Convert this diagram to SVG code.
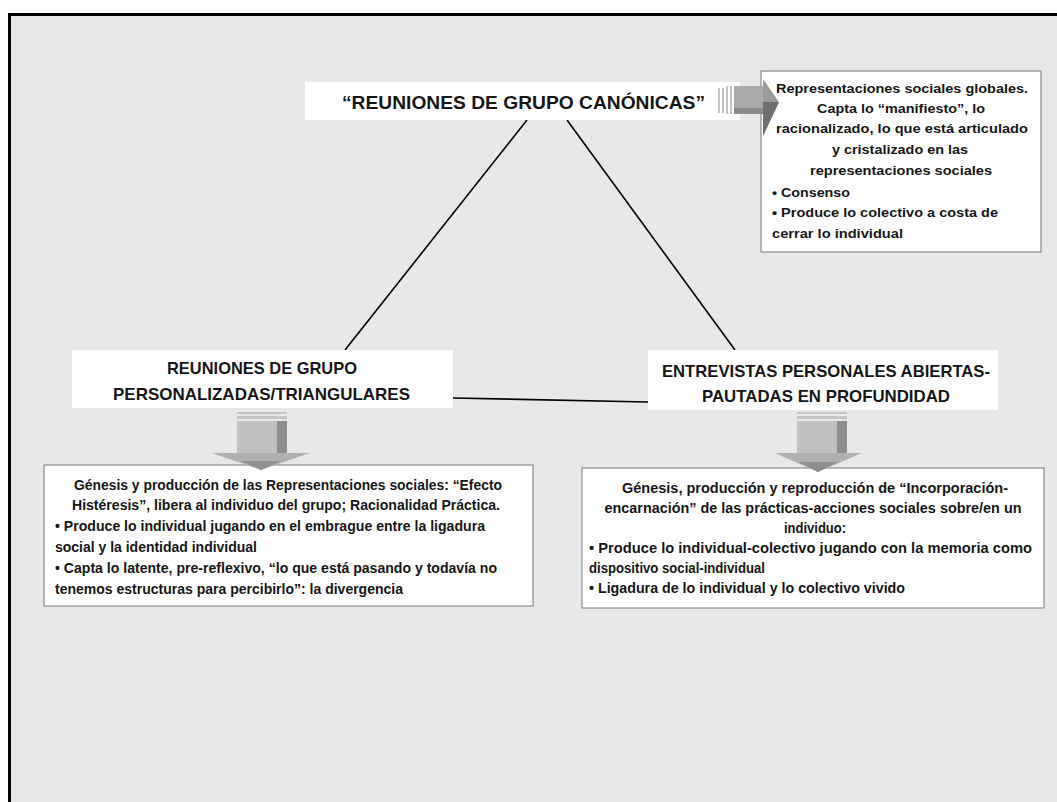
<svg xmlns="http://www.w3.org/2000/svg" width="1057" height="802" viewBox="0 0 1057 802">
<style>
.t{font-family:"Liberation Sans",Arial,sans-serif;font-weight:bold;fill:#161616;}
.s{font-size:14px;}
.r{font-size:13.5px;}
.h{font-size:17px;}
.m{text-anchor:middle;}
.box{fill:#ffffff;stroke:#8a8a8a;stroke-width:1.2;}
.node{fill:#ffffff;}
.ln{stroke:#000;stroke-width:1.6;fill:none;}
</style>
<rect x="0" y="0" width="1057" height="802" fill="#ffffff"/>
<rect x="10" y="15" width="1047" height="787" fill="#e8e8e8"/>
<path d="M9.5,802 V14.5 H1057" fill="none" stroke="#000" stroke-width="3"/>

<g id="connectors">
<line class="ln" x1="527" y1="120" x2="345" y2="350"/>
<line class="ln" x1="567" y1="120" x2="735" y2="350"/>
<line class="ln" x1="453" y1="398" x2="648" y2="402" stroke-width="2"/>
</g>

<g id="node-canonicas">
<rect class="node" x="305" y="82" width="435" height="38"/>
<text class="t m" x="523.5" y="109" font-size="18" textLength="363" lengthAdjust="spacingAndGlyphs">“REUNIONES DE GRUPO CANÓNICAS”</text>
</g>

<g id="node-canonicas-desc">
<rect class="box" x="761" y="71" width="280" height="181"/>
<text class="t r m" x="902" y="93" textLength="252" lengthAdjust="spacingAndGlyphs">Representaciones sociales globales.</text>
<text class="t r m" x="901" y="113" textLength="168" lengthAdjust="spacingAndGlyphs">Capta lo “manifiesto”, lo</text>
<text class="t r m" x="902" y="133" textLength="252" lengthAdjust="spacingAndGlyphs">racionalizado, lo que está articulado</text>
<text class="t r m" x="900" y="154" textLength="136" lengthAdjust="spacingAndGlyphs">y cristalizado en las</text>
<text class="t r m" x="901" y="175" textLength="182" lengthAdjust="spacingAndGlyphs">representaciones sociales</text>
<text class="t r" x="772" y="197" textLength="78" lengthAdjust="spacingAndGlyphs">• Consenso</text>
<text class="t r" x="772" y="217" textLength="226" lengthAdjust="spacingAndGlyphs">• Produce lo colectivo a costa de</text>
<text class="t r" x="772" y="238" textLength="131" lengthAdjust="spacingAndGlyphs">cerrar lo individual</text>
</g>

<g id="arrow-right">
<g stroke="#b0b0b0" stroke-width="1.5">
<line x1="719" y1="88" x2="719" y2="113"/>
<line x1="723" y1="88" x2="723" y2="113"/>
<line x1="727" y1="86" x2="727" y2="114"/>
<line x1="731" y1="86" x2="731" y2="114"/>
</g>
<rect x="734" y="86" width="31" height="28" fill="#ababab"/>
<rect x="734" y="108" width="31" height="6" fill="#8a8a8a"/>
<polygon points="763,79 779,102 763,136" fill="#9a9a9a"/>
<polygon points="763,102 779,102 763,136" fill="#6f6f6f"/>
</g>

<g id="node-personalizadas">
<rect class="node" x="72" y="350" width="381" height="58"/>
<text class="t h m" x="262" y="374" textLength="190" lengthAdjust="spacingAndGlyphs">REUNIONES DE GRUPO</text>
<text class="t h m" x="261.5" y="400" textLength="297" lengthAdjust="spacingAndGlyphs">PERSONALIZADAS/TRIANGULARES</text>
</g>

<g id="node-entrevistas">
<rect class="node" x="648" y="350" width="350" height="60"/>
<text class="t h m" x="826" y="377" textLength="328" lengthAdjust="spacingAndGlyphs">ENTREVISTAS PERSONALES ABIERTAS-</text>
<text class="t h m" x="826" y="402" textLength="248" lengthAdjust="spacingAndGlyphs">PAUTADAS EN PROFUNDIDAD</text>
</g>

<g id="node-personalizadas-desc">
<rect class="box" x="44" y="465" width="489" height="141"/>
<text class="t s m" x="288" y="490" textLength="428" lengthAdjust="spacingAndGlyphs">Génesis y producción de las Representaciones sociales: “Efecto</text>
<text class="t s m" x="286" y="510" textLength="428" lengthAdjust="spacingAndGlyphs">Histéresis”, libera al individuo del grupo;  Racionalidad Práctica.</text>
<text class="t s" x="55" y="531" textLength="430" lengthAdjust="spacingAndGlyphs">• Produce lo individual jugando en el embrague entre la ligadura</text>
<text class="t s" x="55" y="552" textLength="202" lengthAdjust="spacingAndGlyphs">social y la identidad individual</text>
<text class="t s" x="55" y="573" textLength="442" lengthAdjust="spacingAndGlyphs">• Capta lo latente, pre-reflexivo, “lo que está pasando y todavía no</text>
<text class="t s" x="55" y="594" textLength="348" lengthAdjust="spacingAndGlyphs">tenemos estructuras para percibirlo”: la divergencia</text>
</g>

<g id="node-entrevistas-desc">
<rect class="box" x="582" y="468" width="462" height="140"/>
<text class="t s m" x="815" y="493" textLength="386" lengthAdjust="spacingAndGlyphs">Génesis, producción y reproducción de “Incorporación-</text>
<text class="t s m" x="813" y="513" textLength="417" lengthAdjust="spacingAndGlyphs">encarnación” de las prácticas-acciones sociales sobre/en un</text>
<text class="t s m" x="815" y="533" textLength="62" lengthAdjust="spacingAndGlyphs">individuo:</text>
<text class="t s" x="589" y="553" textLength="443" lengthAdjust="spacingAndGlyphs">• Produce lo individual-colectivo jugando con la memoria como</text>
<text class="t s" x="589" y="573" textLength="176" lengthAdjust="spacingAndGlyphs">dispositivo social-individual</text>
<text class="t s" x="589" y="593" textLength="316" lengthAdjust="spacingAndGlyphs">• Ligadura de lo individual y lo colectivo vivido</text>
</g>

<g id="arrow-down-left">
<rect x="237" y="412" width="50" height="2" fill="#c4c4c4"/>
<rect x="237" y="416" width="50" height="3" fill="#c4c4c4"/>
<rect x="237" y="421" width="40" height="33" fill="#c0c0c0"/>
<rect x="277" y="421" width="10" height="33" fill="#8e8e8e"/>
<polygon points="212,453 310,453 261,470" fill="#b0b0b0"/>
<polygon points="241,461 281,461 261,470" fill="#8f8f8f"/>
</g>

<g id="arrow-down-right">
<rect x="797" y="412" width="50" height="2" fill="#c4c4c4"/>
<rect x="797" y="416" width="50" height="3" fill="#c4c4c4"/>
<rect x="797" y="421" width="40" height="33" fill="#c0c0c0"/>
<rect x="837" y="421" width="10" height="33" fill="#8e8e8e"/>
<polygon points="775,453 862,453 818,472" fill="#b0b0b0"/>
<polygon points="798,462 838,462 818,472" fill="#8f8f8f"/>
</g>
</svg>
